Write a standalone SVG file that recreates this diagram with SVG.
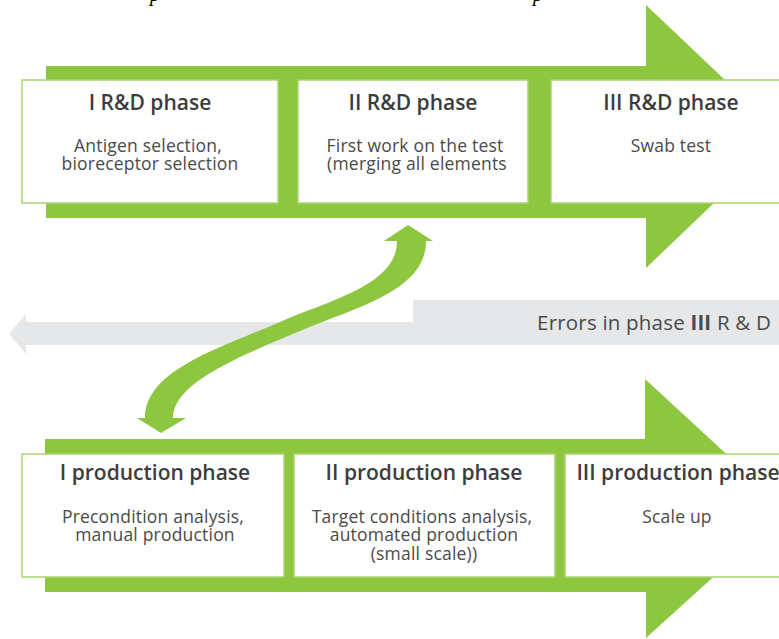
<svg xmlns="http://www.w3.org/2000/svg" width="779" height="639" viewBox="0 0 779 639">
<style>
.g{fill:#8dc63f}
.box{fill:#fff;stroke:#a9d572;stroke-width:1.5}
.h{font-family:"Open Sans","Liberation Sans",sans-serif;font-weight:600;font-size:21px;fill:#3d3d3d;text-anchor:middle}
.b{font-family:"Open Sans","Liberation Sans",sans-serif;font-size:17.5px;letter-spacing:0.2px;fill:#4a4a4a;text-anchor:middle}
.e{font-family:"Open Sans","Liberation Sans",sans-serif;font-size:20.5px;letter-spacing:0.2px;fill:#4a4a4a;text-anchor:end}
.cap{font-family:"Liberation Serif",serif;font-style:italic;font-size:20px;fill:#000}
</style>
<rect width="779" height="639" fill="#fff"/>
<text class="cap" x="150" y="0.5">p</text>
<text class="cap" x="533" y="0.5">p</text>

<g id="band-rd">
<polygon class="g" points="46,66 646,66 646,5 784,136 646,268 646,218 46,218"/>
</g>
<g id="band-production">
<polygon class="g" points="45,439 645,439 645,379 787,510 646,638 646,592 45,592"/>
</g>

<g id="connectors">
<path d="M9,334 L26,314 L26,322 L413,322 L413,300 L785,300 L785,345 L26,345 L26,354 Z" fill="#e6e7e8"/>
<path class="g" d="M397,241 C397,285 330,300 280,322 C220,348 145,370 145,418 L173,418 C173,385 230,360 300,331 C360,306 426,290 426,241 Z"/>
<polygon class="g" points="384,241 408,225 433,241"/>
<polygon class="g" points="137,418 161,433 186,418"/>
</g>

<g id="errors-label">
<text class="e" x="771" y="330">Errors in phase <tspan font-weight="700">III</tspan> R &amp; D</text>
</g>

<g id="rd1">
<rect class="box" x="22" y="80" width="256" height="123"/>
<text class="h" x="150" y="110">I R&amp;D phase</text>
<text class="b" x="148" y="152">Antigen selection,</text>
<text class="b" x="150" y="170">bioreceptor selection</text>
</g>
<g id="rd2">
<rect class="box" x="298" y="80" width="230" height="123"/>
<text class="h" x="413" y="110">II R&amp;D phase</text>
<text class="b" x="415" y="152">First work on the test</text>
<text class="b" x="417" y="170">(merging all elements</text>
</g>
<g id="rd3">
<rect class="box" x="551" y="80" width="240" height="123"/>
<text class="h" x="671" y="110">III R&amp;D phase</text>
<text class="b" x="671" y="152">Swab test</text>
</g>

<g id="prod1">
<rect class="box" x="22" y="454" width="262" height="123"/>
<text class="h" x="155" y="480">I production phase</text>
<text class="b" x="153" y="523">Precondition analysis,</text>
<text class="b" x="155" y="541">manual production</text>
</g>
<g id="prod2">
<rect class="box" x="294" y="454" width="261" height="123"/>
<text class="h" x="424" y="480">II production phase</text>
<text class="b" x="422" y="523">Target conditions analysis,</text>
<text class="b" x="424" y="541">automated production</text>
<text class="b" x="424" y="560">(small scale))</text>
</g>
<g id="prod3">
<rect class="box" x="565" y="454" width="230" height="123"/>
<text class="h" x="678" y="480">III production phase</text>
<text class="b" x="677" y="523">Scale up</text>
</g>
</svg>
